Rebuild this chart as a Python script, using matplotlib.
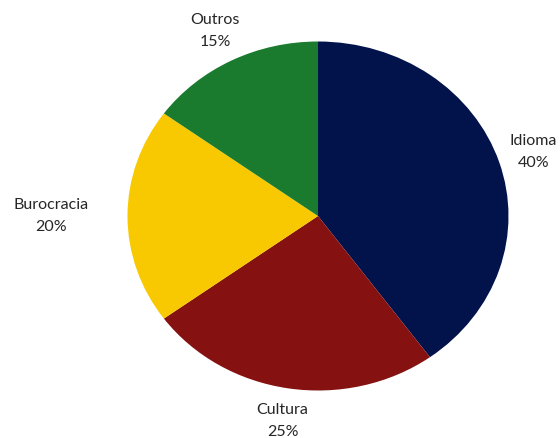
import numpy as np
import matplotlib.pyplot as plt

labels = ["Idioma", "Cultura", "Burocracia", "Outros"]
values = [40, 25, 20, 15]
colors = ["#02124A", "#851111", "#F8C800", "#1A7A2D"]
label_dist = [1.19, 1.19, 1.40, 1.19]

fig = plt.figure(figsize=(5.6, 4.38), dpi=100)
# elliptical pie: stretch the axes instead of keeping equal aspect
ax = fig.add_axes([127.5 / 560, 47.5 / 438, 381 / 560, 349 / 438])
wedges, _ = ax.pie(values, colors=colors, startangle=90, counterclock=False,
                   wedgeprops=dict(linewidth=0))
ax.set_aspect("auto")
ax.set_xlim(-1, 1)
ax.set_ylim(-1, 1)

total = sum(values)
start = 90.0
for lab, v, d in zip(labels, values, label_dist):
    mid = np.deg2rad(start - v / total * 180)
    start -= v / total * 360
    ax.text(d * np.cos(mid), d * np.sin(mid), f"{lab}\n{v}%",
            ha="center", va="center", fontsize=11.5, family="Lato",
            color="#262626", linespacing=1.7, clip_on=False)

fig.savefig("out.png", dpi=100)
